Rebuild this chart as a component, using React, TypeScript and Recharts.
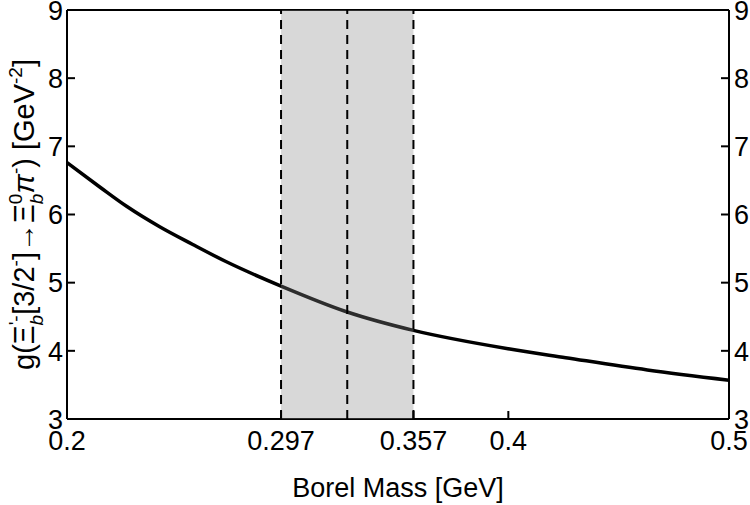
import { ComposedChart, Line, XAxis, YAxis, ReferenceArea, ReferenceLine, Label } from 'recharts';

const borelMass = [0.2, 0.215, 0.227, 0.242, 0.257, 0.272, 0.297, 0.327, 0.357, 0.4, 0.426, 0.463, 0.5];
const coupling = [6.76, 6.4, 6.12, 5.82, 5.56, 5.31, 4.95, 4.57, 4.3, 4.03, 3.9, 3.72, 3.57];
const xTicks = [0.2, 0.297, 0.357, 0.4, 0.5];
const yTicks = [3, 4, 5, 6, 7, 8, 9];
const windowLines = [0.297, 0.327, 0.357];

const data = borelMass.map((m, i) => ({ m, g: coupling[i] }));

const FONT = '"Liberation Sans", Arial, sans-serif';

function BottomTick(props: any) {
    const { x, y, payload } = props;
    return (
        <g>
            <line x1={x} y1={y} x2={x} y2={y - 8} stroke="#000" strokeWidth={2} />
            <text x={x} y={y + 31} textAnchor="middle" fontSize={27} fontFamily={FONT} fill="#000">
                {payload.value}
            </text>
        </g>
    );
}

function LeftTick(props: any) {
    const { x, y, payload } = props;
    return (
        <g>
            <line x1={x} y1={y} x2={x + 8} y2={y} stroke="#000" strokeWidth={2} />
            <text x={x - 4} y={y} dy="0.36em" textAnchor="end" fontSize={27} fontFamily={FONT} fill="#000">
                {payload.value}
            </text>
        </g>
    );
}

function RightTick(props: any) {
    const { x, y, payload } = props;
    return (
        <g>
            <line x1={x} y1={y} x2={x - 8} y2={y} stroke="#000" strokeWidth={2} />
            <text x={x + 5} y={y} dy="0.36em" textAnchor="start" fontSize={27} fontFamily={FONT} fill="#000">
                {payload.value}
            </text>
        </g>
    );
}

function YTitle(props: any) {
    const vb = props.viewBox || { y: 10, height: 409 };
    const cy = vb.y + vb.height / 2;
    const s = 19;
    return (
        <text transform="rotate(-90)" x={-cy} y={34} textAnchor="middle" fontSize={29} fontFamily={FONT} fill="#000">
            g(Ξ
            <tspan dy={-12} fontSize={s}>'-</tspan>
            <tspan dx={-10} dy={21} fontSize={s} fontStyle="italic">b</tspan>
            <tspan dy={-9}>[3/2</tspan>
            <tspan dy={-12} fontSize={s}>-</tspan>
            <tspan dy={12}>]→Ξ</tspan>
            <tspan dy={-12} fontSize={s}>0</tspan>
            <tspan dx={-10.5} dy={21} fontSize={s} fontStyle="italic">b</tspan>
            <tspan dy={-9} fontStyle="italic">π</tspan>
            <tspan dy={-12} fontSize={s}>-</tspan>
            <tspan dy={12}>) [GeV</tspan>
            <tspan dy={-12} fontSize={s}>-2</tspan>
            <tspan dy={12}>]</tspan>
        </text>
    );
}

export default function App() {
    return (
        <div style={{ position: 'fixed', left: 0, top: 0, width: 750, height: 505, background: '#fff' }}>
            <ComposedChart width={750} height={505} data={data} margin={{ top: 10, right: 0, left: 0, bottom: 0 }}>
                <XAxis
                    dataKey="m"
                    type="number"
                    domain={[0.2, 0.5]}
                    ticks={xTicks}
                    allowDataOverflow
                    height={86}
                    tickSize={0}
                    tickMargin={0}
                    tickLine={false}
                    axisLine={{ stroke: '#000', strokeWidth: 2 }}
                    tick={<BottomTick />}
                    interval={0}
                >
                    <Label value="Borel Mass [GeV]" position="insideBottom" offset={8} fontSize={27} fontFamily={FONT} fill="#000" />
                </XAxis>
                <YAxis
                    yAxisId="left"
                    type="number"
                    domain={[3, 9]}
                    ticks={yTicks}
                    allowDataOverflow
                    width={67}
                    tickSize={0}
                    tickMargin={0}
                    tickLine={false}
                    axisLine={{ stroke: '#000', strokeWidth: 2 }}
                    tick={<LeftTick />}
                    interval={0}
                    label={<YTitle />}
                />
                <YAxis
                    yAxisId="right"
                    orientation="right"
                    type="number"
                    domain={[3, 9]}
                    ticks={yTicks}
                    allowDataOverflow
                    width={21}
                    tickSize={0}
                    tickMargin={0}
                    tickLine={false}
                    axisLine={{ stroke: '#000', strokeWidth: 2 }}
                    tick={<RightTick />}
                    interval={0}
                />
                <ReferenceLine yAxisId="left" y={9} stroke="#000" strokeWidth={2} />
                <Line
                    yAxisId="left"
                    dataKey="g"
                    type="monotone"
                    stroke="#000"
                    strokeWidth={3.5}
                    dot={false}
                    isAnimationActive={false}
                />
                <ReferenceArea
                    yAxisId="left"
                    x1={windowLines[0]}
                    x2={windowLines[2]}
                    y1={3}
                    y2={9}
                    fill="#8a8a8a"
                    fillOpacity={0.33}
                    stroke="none"
                    zIndex={500}
                />
                {windowLines.map((v) => (
                    <ReferenceLine
                        key={v}
                        yAxisId="left"
                        x={v}
                        stroke="#000"
                        strokeWidth={2}
                        strokeDasharray="9 6"
                        zIndex={600}
                    />
                ))}
            </ComposedChart>
        </div>
    );
}
